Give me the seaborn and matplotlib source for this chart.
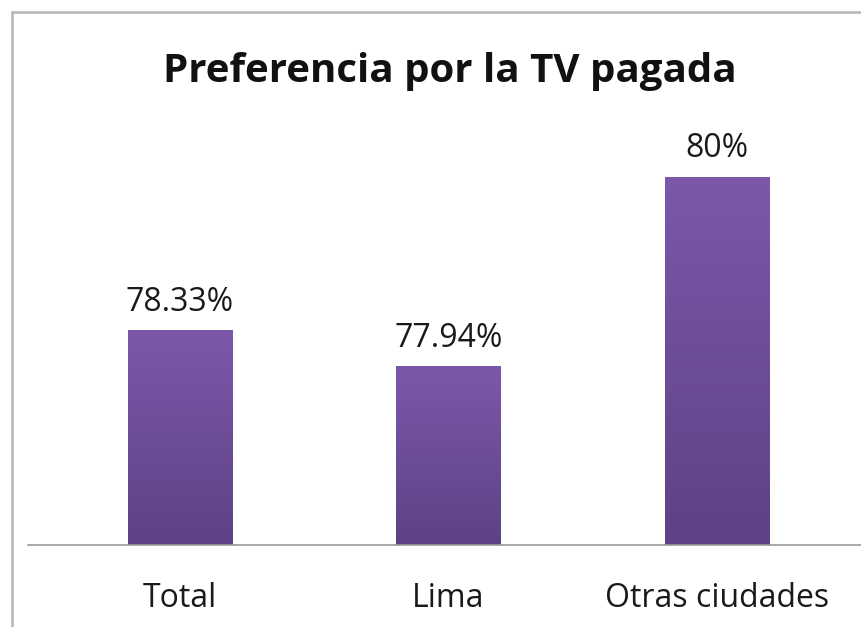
import numpy as np
import pandas as pd
import matplotlib
matplotlib.use("Agg")
import matplotlib.pyplot as plt
import seaborn as sns
from matplotlib.colors import LinearSegmentedColormap
from matplotlib.patches import Rectangle

categories = ["Total", "Lima", "Otras ciudades"]
values = [78.33, 77.94, 80.0]
labels = ["78.33%", "77.94%", "80%"]
title = "Preferencia por la TV pagada"

sns.set_theme(style="white")
plt.rcParams['font.family'] = ['Open Sans', 'DejaVu Sans']

W, H = 862, 627
PT = 72 / 100  # points per pixel
fig = plt.figure(figsize=(W / 100, H / 100), dpi=100)
fig.patch.set_facecolor("white")

# outer frame
fig.add_artist(Rectangle((12 / W, -0.05), 1.2, 1 - 12 / H + 0.05, transform=fig.transFigure,
                         fill=False, edgecolor="#b5b5b5", linewidth=1.8))

ax_left, ax_right = 28, 862
ax_bottom, ax_top = 545, 131
ax = fig.add_axes([ax_left / W, 1 - ax_bottom / H, (ax_right - ax_left) / W, (ax_bottom - ax_top) / H])

df = pd.DataFrame({"cat": categories, "val": values})
sns.barplot(data=df, x="cat", y="val", ax=ax, color="#7050a0", width=0.39, saturation=1)

ymin, ymax = 76, 80.5
px_per = 268.5
xlim = (-(180 - ax_left) / px_per, 2 + (ax_right - 717) / px_per)

cmap = LinearSegmentedColormap.from_list("g", ["#5d4285", "#7c58aa"])
grad = np.linspace(0, 1, 256).reshape(-1, 1)
for p in ax.patches:
    x0, w = p.get_x(), p.get_width()
    top = p.get_y() + p.get_height()
    ax.imshow(grad, extent=[x0, x0 + w, ymin, top], origin="lower", cmap=cmap,
              aspect="auto", zorder=p.get_zorder() + 0.1)
    p.set_facecolor("none")
    p.set_edgecolor("none")
ax.set_xlim(*xlim)
ax.set_ylim(ymin, ymax)

for i, (v, lab) in enumerate(zip(values, labels)):
    ax.annotate(lab, xy=(i, v), xytext=(0, 20 * PT), textcoords="offset points",
                ha="center", va="baseline", fontsize=23, color="#1a1a1a")
    ax.annotate(categories[i], xy=(i, ymin), xytext=(0, -62 * PT), textcoords="offset points",
                ha="center", va="baseline", fontsize=23, color="#1a1a1a", annotation_clip=False)

ax.set_yticks([])
ax.set_xticks([])
ax.set_xlabel("")
ax.set_ylabel("")
for s in ["top", "right", "left"]:
    ax.spines[s].set_visible(False)
ax.spines["bottom"].set_color("#9a9a9a")
ax.spines["bottom"].set_linewidth(1.2)
ax.patch.set_alpha(0)

fig.text(450 / W, 1 - 82 / H, title, ha="center", va="baseline", fontsize=29,
         fontweight="bold", color="#111111")

fig.savefig("out.png", dpi=100)
